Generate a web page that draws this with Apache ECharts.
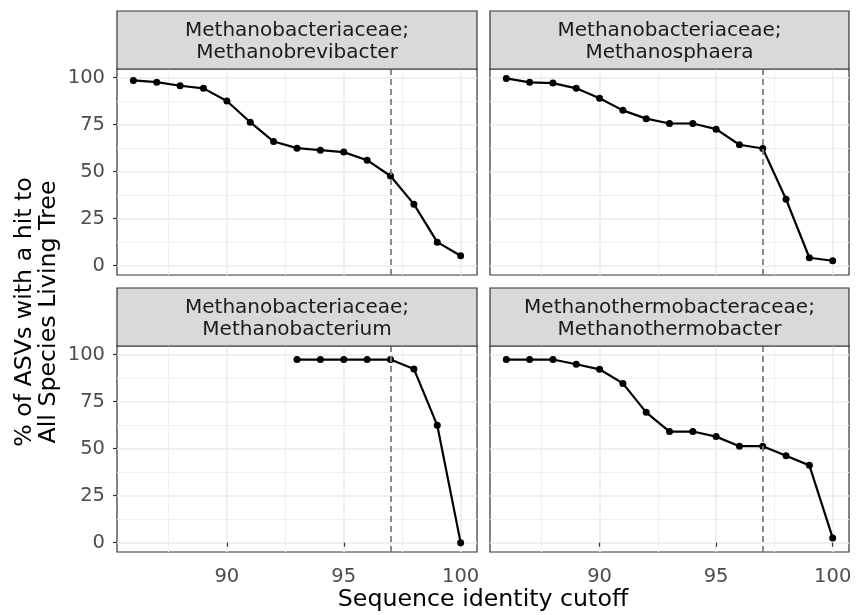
<!DOCTYPE html>
<html>
<head>
<meta charset="utf-8">
<script src="https://cdn.jsdelivr.net/npm/echarts@6/dist/echarts.min.js"></script>
<style>
  html, body { margin: 0; padding: 0; background: #ffffff; }
  #chart { width: 856px; height: 615px; }
</style>
</head>
<body>
<div id="chart"></div>
<script>
// ---------- data ----------
const cutoffs = [86, 87, 88, 89, 90, 91, 92, 93, 94, 95, 96, 97, 98, 99, 100];
const bacteriumCutoffs = [93, 94, 95, 96, 97, 98, 99, 100];

const methanobrevibacter = [98.5, 97.6, 95.7, 94.3, 87.6, 76.3, 66.0, 62.5, 61.4, 60.4, 56.1, 47.7, 32.7, 12.5, 5.3];
const methanosphaera     = [99.6, 97.5, 97.1, 94.3, 89.0, 82.6, 78.2, 75.6, 75.6, 72.6, 64.3, 62.3, 35.3, 4.2, 2.6];
const methanobacterium   = [97.4, 97.4, 97.4, 97.4, 97.4, 92.4, 62.4, 0.0];
const methanothermobacter= [97.4, 97.4, 97.4, 94.9, 92.2, 84.7, 69.3, 59.1, 59.1, 56.4, 51.3, 51.3, 46.2, 41.1, 2.5];

const stripLabels = [
  'Methanobacteriaceae;\nMethanobrevibacter',
  'Methanobacteriaceae;\nMethanosphaera',
  'Methanobacteriaceae;\nMethanobacterium',
  'Methanothermobacteraceae;\nMethanothermobacter'
];

const xMajorTicks = [90, 95, 100];
const xMinorTicks = [87.5, 92.5, 97.5];
const yMajorTicks = [0, 25, 50, 75, 100];
const yMinorTicks = [12.5, 37.5, 62.5, 87.5];
const thresholdCutoff = 97;

const xLabel = 'Sequence identity cutoff';
const yLabel = '% of ASVs with a hit to\nAll Species Living Tree';

// ---------- layout ----------
const FONT = 'DejaVu Sans';
const panelBoxes = [
  { left: 117, top: 69,  width: 360, height: 206 },
  { left: 490, top: 69,  width: 359, height: 206 },
  { left: 117, top: 346, width: 360, height: 206 },
  { left: 490, top: 346, width: 359, height: 206 }
];
const stripHeight = 58;
const xRange = [85.3, 100.7];
const yRange = [-4.98, 104.6];

const seriesData = [
  cutoffs.map((c, i) => [c, methanobrevibacter[i]]),
  cutoffs.map((c, i) => [c, methanosphaera[i]]),
  bacteriumCutoffs.map((c, i) => [c, methanobacterium[i]]),
  cutoffs.map((c, i) => [c, methanothermobacter[i]])
];

const grid = [], xAxis = [], yAxis = [], series = [], graphic = [];

panelBoxes.forEach((b, p) => {
  grid.push({
    left: b.left, top: b.top, width: b.width, height: b.height,
    show: true, backgroundColor: '#ffffff', borderColor: '#333333', borderWidth: 1.2,
    containLabel: false
  });
  const isBottom = p >= 2;
  const isLeft = p % 2 === 0;
  xAxis.push({
    type: 'value', gridIndex: p, min: xRange[0], max: xRange[1],
    axisLine: { show: false },
    axisTick: { show: isBottom, customValues: xMajorTicks, length: 4, lineStyle: { color: '#333333', width: 1.2 } },
    axisLabel: { show: isBottom, customValues: xMajorTicks, color: '#4d4d4d', fontSize: 19.5, fontFamily: FONT, margin: 15 },
    splitLine: { show: true, lineStyle: { color: '#ebebeb', width: 1.5 } }
  });
  xAxis.push({
    type: 'value', gridIndex: p, min: xRange[0], max: xRange[1],
    axisLine: { show: false },
    axisTick: { show: false, customValues: xMinorTicks },
    axisLabel: { show: false, customValues: xMinorTicks },
    splitLine: { show: true, lineStyle: { color: '#f0f0f0', width: 1 } }
  });
  yAxis.push({
    type: 'value', gridIndex: p, min: yRange[0], max: yRange[1],
    axisLine: { show: false },
    axisTick: { show: isLeft, customValues: yMajorTicks, length: 4, lineStyle: { color: '#333333', width: 1.2 } },
    axisLabel: { show: isLeft, customValues: yMajorTicks, color: '#4d4d4d', fontSize: 19.5, fontFamily: FONT, margin: 12 },
    splitLine: { show: true, lineStyle: { color: '#ebebeb', width: 1.5 } }
  });
  yAxis.push({
    type: 'value', gridIndex: p, min: yRange[0], max: yRange[1],
    axisLine: { show: false },
    axisTick: { show: false, customValues: yMinorTicks },
    axisLabel: { show: false, customValues: yMinorTicks },
    splitLine: { show: true, lineStyle: { color: '#f0f0f0', width: 1 } }
  });

  series.push({
    type: 'line',
    xAxisIndex: p * 2, yAxisIndex: p * 2,
    data: seriesData[p],
    symbol: 'circle', symbolSize: 7, showSymbol: true,
    lineStyle: { color: '#000000', width: 2.2 },
    itemStyle: { color: '#000000' },
    z: 3,
    markLine: {
      silent: true, symbol: ['none', 'none'], animation: false,
      label: { show: false },
      lineStyle: { type: [6, 4], color: '#7f7f7f', width: 1.8 },
      emphasis: { disabled: true },
      data: [{ xAxis: thresholdCutoff }]
    }
  });

  graphic.push({
    type: 'rect', z: 10,
    shape: { x: b.left, y: b.top - stripHeight, width: b.width, height: stripHeight },
    style: { fill: '#d9d9d9', stroke: '#333333', lineWidth: 1.2 }
  });
  graphic.push({
    type: 'text', z: 11,
    x: b.left + b.width / 2, y: b.top - stripHeight / 2 + 1.5,
    style: {
      text: stripLabels[p], fill: '#1a1a1a', font: '20px "DejaVu Sans"',
      align: 'center', verticalAlign: 'middle', lineHeight: 22
    }
  });
});

graphic.push({
  type: 'text', z: 11, x: 483, y: 600,
  style: { text: xLabel, fill: '#000000', font: '23.7px "DejaVu Sans"', align: 'center', verticalAlign: 'middle' }
});
graphic.push({
  type: 'text', z: 11, x: 37, y: 312, rotation: Math.PI / 2,
  style: { text: yLabel, fill: '#000000', font: '23.7px "DejaVu Sans"', align: 'center', verticalAlign: 'middle', lineHeight: 24 }
});

const chart = echarts.init(document.getElementById('chart'), null, { renderer: 'canvas' });
chart.setOption({
  animation: false,
  backgroundColor: '#ffffff',
  textStyle: { fontFamily: FONT },
  grid, xAxis, yAxis, series, graphic
});
</script>
</body>
</html>
